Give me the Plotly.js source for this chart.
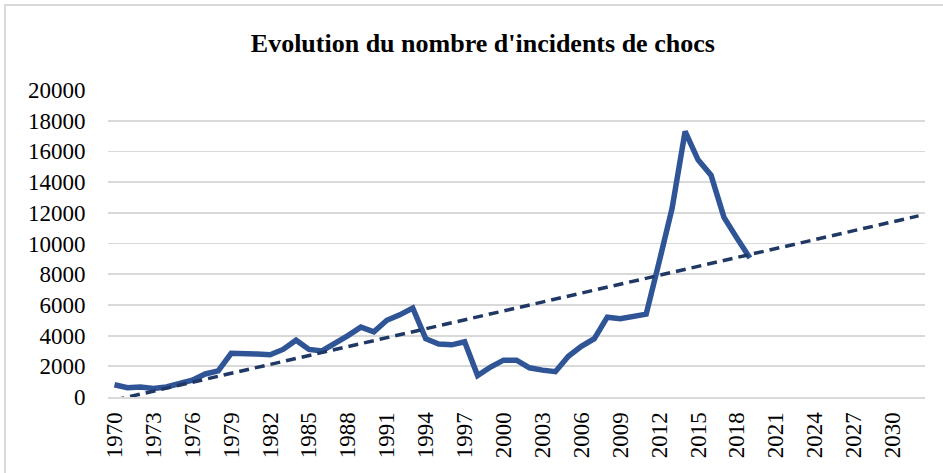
<!DOCTYPE html>
<html>
<head>
<meta charset="utf-8">
<script src="https://cdn.plot.ly/plotly-3.0.1.min.js"></script>
<style>
html,body{margin:0;padding:0;background:#fff;}
#chart{position:absolute;left:0;top:0;width:943px;height:473px;}
#frame{position:absolute;left:4px;top:4px;width:945px;height:475px;border-left:2px solid #d9d9d9;border-top:2px solid #d9d9d9;pointer-events:none;}
</style>
</head>
<body>
<div id="chart"></div>
<div id="frame"></div>
<script>
const years = [1970,1971,1972,1973,1974,1975,1976,1977,1978,1979,
  1980,1981,1982,1983,1984,1985,1986,1987,1988,1989,
  1990,1991,1992,1993,1994,1995,1996,1997,1998,1999,
  2000,2001,2002,2003,2004,2005,2006,2007,2008,2009,
  2010,2011,2012,2013,2014,2015,2016,2017,2018,2019];
const incidents = [800,600,650,550,650,850,1100,1500,1700,2850,
  2850,2800,2750,3100,3700,3100,3000,3450,4000,4550,
  4250,5000,5350,5800,3800,3450,3400,3600,1400,1950,
  2400,2400,1900,1750,1650,2650,3300,3800,5200,5100,
  5250,5400,8800,12300,17300,15450,14450,11700,10350,9050];
const trendYears = [1970, 2032];
const trendValues = [-200, 11800];
const tickYears = [1970,1973,1976,1979,1982,1985,1988,1991,1994,1997,2000,2003,2006,2009,2012,2015,2018,2021,2024,2027,2030];
const yTicks = [0,2000,4000,6000,8000,10000,12000,14000,16000,18000,20000];

const font = "Times New Roman, Liberation Serif, DejaVu Serif, serif";
const data = [
  {x: years, y: incidents, type: 'scatter', mode: 'lines',
   line: {color: '#2F5597', width: 5.5, shape: 'linear'}, hoverinfo: 'x+y'},
  {x: trendYears, y: trendValues, type: 'scatter', mode: 'lines',
   line: {color: '#1F3864', width: 3.5, dash: '10px,6px'}, hoverinfo: 'skip'}
];
const layout = {
  width: 943, height: 473,
  margin: {l: 108, r: 18, t: 90, b: 76},
  paper_bgcolor: '#fff', plot_bgcolor: '#fff',
  font: {family: font, color: '#000'},
  showlegend: false,
  title: {text: "<b>Evolution du nombre d'incidents de chocs</b>",
    font: {family: font, size: 26, color: '#000'}, x: 0.512, xanchor: 'center', y: 0.91, yanchor: 'middle'},
  xaxis: {type: 'linear', range: [1969.5, 2032.5], tickmode: 'array', tickvals: tickYears,
    ticktext: tickYears.map(String), tickangle: -90, ticks: 'outside', ticklen: 4, tickcolor: 'rgba(0,0,0,0)',
    showgrid: false, zeroline: false,
    showline: true, linecolor: '#d9d9d9', linewidth: 2,
    tickfont: {family: font, size: 23, color: '#000'}},
  yaxis: {range: [0, 20000], tickmode: 'array', tickvals: yTicks, ticktext: yTicks.map(String),
    showgrid: true, gridcolor: '#d9d9d9', gridwidth: 1.8, zeroline: false, showline: false,
    ticks: 'outside', ticklen: 17, tickcolor: 'rgba(0,0,0,0)',
    tickfont: {family: font, size: 23, color: '#000'}}
};
Plotly.newPlot('chart', data, layout, {displayModeBar: false, staticPlot: true});
</script>
</body>
</html>
